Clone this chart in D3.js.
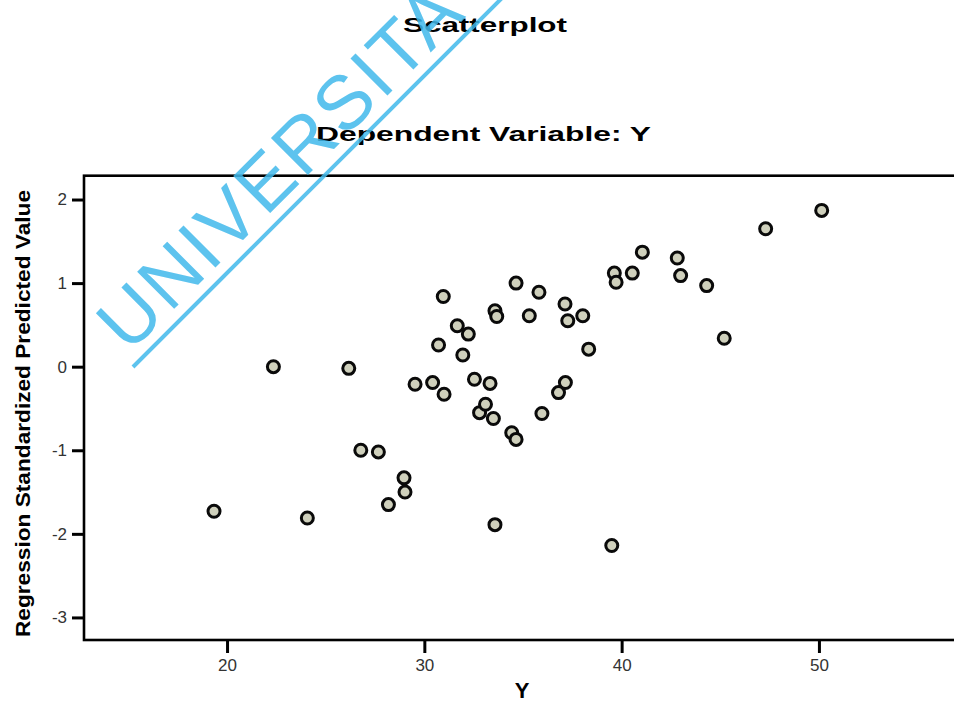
<!DOCTYPE html>
<html>
<head>
<meta charset="utf-8">
<script src="https://cdn.jsdelivr.net/npm/d3@7"></script>
<style>
  html, body { margin: 0; padding: 0; background: #fff; }
  svg { display: block; }
  text { font-family: "Liberation Sans", Arial, Helvetica, sans-serif; }
</style>
</head>
<body>
<svg id="chart" width="954" height="703"></svg>
<script>
// ---- Data ----
const observedY = [19.34, 22.35, 24.07, 26.17, 26.78, 27.67, 28.18, 28.97, 29.02, 29.53,
  30.42, 30.72, 30.96, 31.00, 31.67, 31.95, 32.23, 32.54, 32.80, 33.10,
  33.33, 33.50, 33.58, 33.67, 33.58, 34.43, 34.65, 34.65, 35.32, 35.81,
  35.96, 36.80, 37.13, 37.15, 37.27, 38.03, 38.33, 39.50, 39.63, 39.72,
  40.54, 41.05, 42.82, 42.99, 44.31, 45.20, 47.30, 50.14];
const standardizedPredicted = [-1.73, 0.00, -1.81, -0.02, -1.00, -1.02, -1.65, -1.33, -1.50, -0.21,
  -0.19, 0.26, 0.84, -0.33, 0.49, 0.14, 0.39, -0.15, -0.55, -0.45,
  -0.20, -0.62, 0.67, 0.60, -1.89, -0.79, -0.87, 1.00, 0.61, 0.89,
  -0.56, -0.31, 0.75, -0.19, 0.55, 0.61, 0.21, -2.14, 1.12, 1.01,
  1.12, 1.37, 1.30, 1.09, 0.97, 0.34, 1.65, 1.87];
const xTicks = [20, 30, 40, 50];
const yTicks = [-3, -2, -1, 0, 1, 2];
const xDomain = [12.75, 57.15];
const yDomain = [-3.27, 2.285];
const chartTitle = "Scatterplot";
const chartSubtitle = "Dependent Variable: Y";
const xLabel = "Y";
const yLabel = "Regression Standardized Predicted Value";
const watermark = "UNIVERSITA";

// ---- Layout ----
const svg = d3.select("#chart");
const plot = { left: 84, right: 960, top: 175.7, bottom: 640 };

const x = d3.scaleLinear().domain(xDomain).range([plot.left, plot.right]);
const y = d3.scaleLinear().domain(yDomain).range([plot.bottom, plot.top]);

const points = observedY.map((v, i) => ({ x: v, y: standardizedPredicted[i] }));

// Frame
svg.append("rect")
  .attr("x", plot.left).attr("y", plot.top)
  .attr("width", plot.right - plot.left).attr("height", plot.bottom - plot.top)
  .attr("fill", "#fff").attr("stroke", "#000").attr("stroke-width", 2.6);

// X axis
const xAxis = d3.axisBottom(x).tickValues(xTicks).tickSize(13).tickPadding(6).tickFormat(d3.format("d"));
const gx = svg.append("g").attr("transform", `translate(0,${plot.bottom})`).call(xAxis);
gx.select(".domain").remove();
gx.selectAll(".tick line").attr("stroke", "#000").attr("stroke-width", 3);
gx.selectAll(".tick text").attr("font-size", 17).attr("fill", "#333")
  .attr("font-family", "'Liberation Sans', Arial, sans-serif");

// Y axis
const yAxis = d3.axisLeft(y).tickValues(yTicks).tickSize(12).tickPadding(5).tickFormat(d => d < 0 ? "-" + Math.abs(d) : String(d));
const gy = svg.append("g").attr("transform", `translate(${plot.left},0)`).call(yAxis);
gy.select(".domain").remove();
gy.selectAll(".tick line").attr("stroke", "#000").attr("stroke-width", 3);
gy.selectAll(".tick text").attr("font-size", 17).attr("fill", "#333")
  .attr("font-family", "'Liberation Sans', Arial, sans-serif");

// Points
svg.append("g").selectAll("circle").data(points).join("circle")
  .attr("cx", d => x(d.x)).attr("cy", d => y(d.y)).attr("r", 6)
  .attr("fill", "#cfd0bc").attr("stroke", "#0a0a0a").attr("stroke-width", 3);

// Titles
svg.append("text").attr("x", 403).attr("y", 32).attr("font-size", 21).attr("font-weight", "bold")
  .attr("textLength", 164).attr("lengthAdjust", "spacingAndGlyphs").attr("fill", "#000").text(chartTitle);
svg.append("text").attr("x", 316).attr("y", 141).attr("font-size", 20).attr("font-weight", "bold")
  .attr("textLength", 335).attr("lengthAdjust", "spacingAndGlyphs").attr("fill", "#000").text(chartSubtitle);

// Axis labels
svg.append("text").attr("x", 522).attr("y", 698).attr("text-anchor", "middle")
  .attr("font-size", 22).attr("font-weight", "bold").attr("fill", "#000").text(xLabel);
svg.append("text").attr("transform", "translate(30,413.5) rotate(-90)").attr("text-anchor", "middle")
  .attr("font-size", 21).attr("font-weight", "bold").attr("textLength", 447)
  .attr("lengthAdjust", "spacingAndGlyphs").attr("fill", "#000").text(yLabel);

// Watermark
const wm = svg.append("g").attr("transform", "translate(133,367) rotate(-45)").attr("opacity", 0.85);
wm.append("line").attr("x1", 0).attr("y1", 0).attr("x2", 560).attr("y2", 0)
  .attr("stroke", "#41b9ec").attr("stroke-width", 4);
wm.append("text").attr("x", 6).attr("y", -12).attr("font-size", 76)
  .attr("letter-spacing", 3).attr("fill", "#41b9ec").text(watermark);
</script>
</body>
</html>
